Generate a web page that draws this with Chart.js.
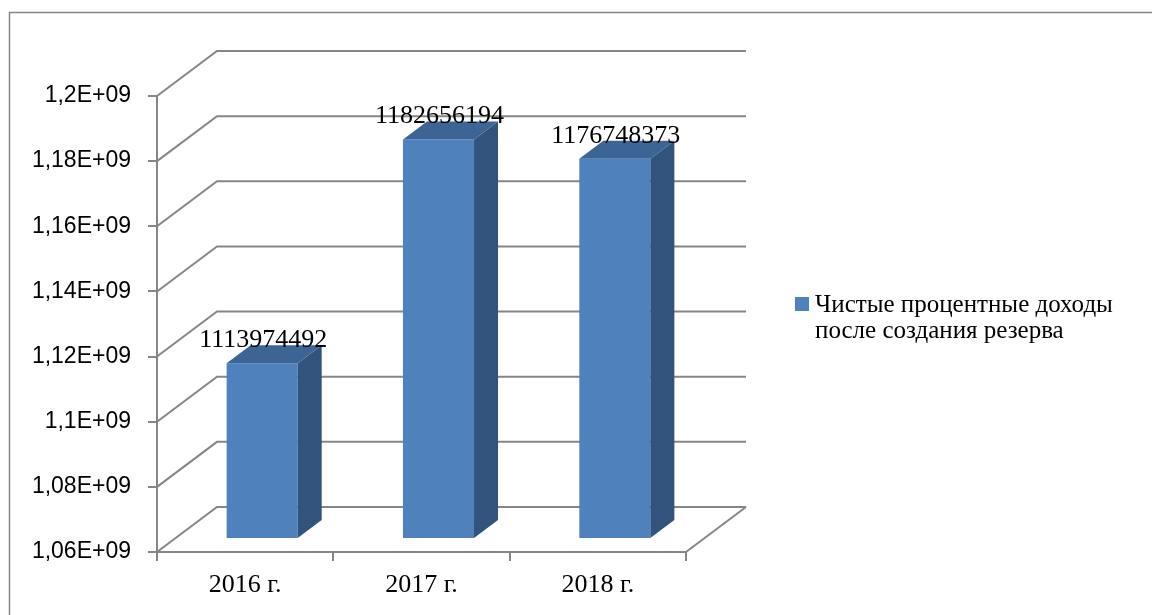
<!DOCTYPE html>
<html>
<head>
<meta charset="utf-8">
<script src="https://cdn.jsdelivr.net/npm/chart.js@4.4.0/dist/chart.umd.min.js"></script>
<style>
  html, body { margin: 0; padding: 0; background: #fff; }
  #wrap { width: 1152px; height: 615px; }
</style>
</head>
<body>
<div id="wrap"><canvas id="myChart" width="1152" height="615"></canvas></div>
<script>
const categories = ['2016 г.', '2017 г.', '2018 г.'];
const values = [1113974492, 1182656194, 1176748373];
const seriesName = ['Чистые процентные доходы', 'после создания резерва'];
const yTicks = [1.06e9, 1.08e9, 1.1e9, 1.12e9, 1.14e9, 1.16e9, 1.18e9, 1.2e9];

const gridColor = '#868686';
const frontColor = '#4F81BD';
const sideColor = '#32547C';
const topColor = '#3C6494';

// 3d depth of the back wall and of the bars
const wallDx = 60, wallDy = -45;
const barShiftX = 17, barShiftY = -13;
const barDx = 24, barDy = -18;

function fmtTick(v) {
    // Excel style "1,18E+09"
    const m = v / 1e9;
    let s = String(Math.round(m * 100) / 100).replace('.', ',');
    return s + 'E+09';
}

const ctx = document.getElementById('myChart');

const wallPlugin = {
    id: 'wall',
    beforeDraw(chart) {
        const c = chart.ctx;
        c.save();
        c.strokeStyle = gridColor;
        c.lineWidth = 1.5;
        c.strokeRect(9.5, 12.5, 1200, 700);
        c.restore();
    },
    beforeDatasetsDraw(chart) {
        const c = chart.ctx;
        const y = chart.scales.y;
        const a = chart.chartArea;
        c.save();
        c.strokeStyle = gridColor;
        c.lineWidth = 2;
        for (const v of yTicks) {
            const py = y.getPixelForValue(v);
            c.beginPath();
            c.moveTo(a.left, py);
            c.lineTo(a.left + wallDx, py + wallDy);
            c.lineTo(a.right + wallDx, py + wallDy);
            c.stroke();
        }
        // floor right edge
        c.beginPath();
        c.moveTo(a.right, a.bottom);
        c.lineTo(a.right + wallDx, a.bottom + wallDy);
        c.stroke();
        c.restore();
    },
    beforeDatasetDraw(chart) {
        chart.ctx.save();
        chart.ctx.translate(barShiftX, barShiftY);
    },
    afterDatasetDraw(chart, args) {
        const c = chart.ctx;
        const meta = args.meta;
        const bottom = chart.chartArea.bottom;
        meta.data.forEach((bar, i) => {
            const p = bar.getProps(['x', 'y', 'base', 'width'], true);
            const base = Math.min(p.base, bottom);
            const l = p.x - p.width / 2, r = p.x + p.width / 2;
            // side face
            c.fillStyle = sideColor;
            c.beginPath();
            c.moveTo(r, p.y);
            c.lineTo(r + barDx, p.y + barDy);
            c.lineTo(r + barDx, base + barDy);
            c.lineTo(r, base);
            c.closePath();
            c.fill();
            // top face
            c.fillStyle = topColor;
            c.beginPath();
            c.moveTo(l, p.y);
            c.lineTo(l + barDx, p.y + barDy);
            c.lineTo(r + barDx, p.y + barDy);
            c.lineTo(r, p.y);
            c.closePath();
            c.fill();
            // value label
            c.fillStyle = '#000';
            c.font = '26px "Liberation Serif", "Times New Roman", serif';
            c.textAlign = 'center';
            c.textBaseline = 'alphabetic';
            c.fillText(String(values[i]), p.x + 1, p.y - 16);
        });
        c.restore();
    },
    afterDraw(chart) {
        const c = chart.ctx;
        c.save();
        c.fillStyle = frontColor;
        c.fillRect(795, 297, 14, 14);
        c.fillStyle = '#000';
        c.font = '25px "Liberation Serif", "Times New Roman", serif';
        c.textAlign = 'left';
        c.textBaseline = 'alphabetic';
        c.fillText(seriesName[0], 815, 312);
        c.fillText(seriesName[1], 815, 338);
        c.restore();
    }
};

const config = {
    type: 'bar',
    data: {
        labels: categories,
        datasets: [{
            label: seriesName.join(' '),
            data: values,
            base: yTicks[0],
            backgroundColor: frontColor,
            borderWidth: 0,
            categoryPercentage: 1,
            barPercentage: 0.403,
        }]
    },
    options: {
        responsive: false,
        animation: false,
        events: [],
        layout: {
            padding: { left: 0, top: 96, right: 466, bottom: 0 }
        },
        scales: {
            y: {
                min: 1.06e9,
                max: 1.2e9,
                afterFit(scale) { scale.width = 157; },
                afterBuildTicks(scale) {
                    scale.ticks = yTicks.map(v => ({ value: v }));
                },
                ticks: {
                    callback: (v) => fmtTick(v),
                    color: '#000',
                    padding: 17,
                    font: { family: '"Liberation Sans", Arial, sans-serif', size: 23 },
                },
                grid: {
                    drawOnChartArea: false,
                    drawTicks: true,
                    tickLength: 9,
                    color: gridColor,
                    lineWidth: 2,
                },
                border: { display: true, color: gridColor, width: 2 },
            },
            x: {
                afterFit(scale) { scale.height = 63; },
                ticks: {
                    color: '#000',
                    padding: 9,
                    font: { family: '"Liberation Serif", "Times New Roman", serif', size: 26 },
                },
                grid: {
                    offset: true,
                    drawOnChartArea: false,
                    drawTicks: true,
                    tickLength: 9,
                    color: gridColor,
                    lineWidth: 2,
                },
                border: { display: true, color: gridColor, width: 2 },
            }
        },
        plugins: {
            legend: { display: false },
            tooltip: { enabled: false },
        }
    },
    plugins: [wallPlugin]
};

const myChart = new Chart(ctx, config);
</script>
</body>
</html>
